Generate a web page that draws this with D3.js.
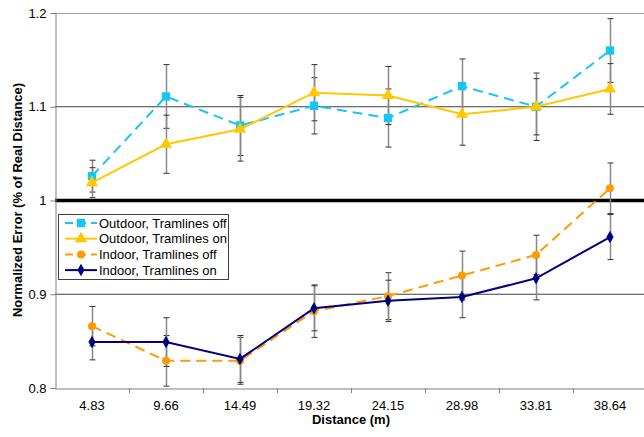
<!DOCTYPE html>
<html><head><meta charset="utf-8">
<script src="https://cdn.jsdelivr.net/npm/d3@7"></script>
<style>body{margin:0;background:#fff;} svg{display:block;font-family:Arial,"Liberation Sans",sans-serif;}</style>
</head><body>
<svg id="c" width="644" height="437"></svg>
<script>
const categories = ["4.83","9.66","14.49","19.32","24.15","28.98","33.81","38.64"];
const seriesNames = ["Outdoor, Tramlines off","Outdoor, Tramlines on","Indoor, Tramlines off","Indoor, Tramlines on"];
const outdoorOff = [1.026,1.111,1.080,1.101,1.088,1.122,1.100,1.160];
const outdoorOffErr = [0.017,0.034,0.032,0.030,0.031,0.029,0.036,0.034];
const outdoorOn = [1.019,1.060,1.076,1.115,1.112,1.092,1.100,1.119];
const outdoorOnErr = [0.016,0.031,0.034,0.030,0.031,0.033,0.030,0.027];
const indoorOff = [0.866,0.829,0.829,0.882,0.898,0.920,0.942,1.013];
const indoorOffErr = [0.021,0.027,0.025,0.028,0.025,0.026,0.021,0.027];
const indoorOn = [0.849,0.849,0.831,0.885,0.893,0.897,0.917,0.961];
const indoorOnErr = [0.019,0.026,0.025,0.024,0.022,0.022,0.023,0.024];
const yTicks = [0.8,0.9,1.0,1.1,1.2];
const yTickLabels = ["0.8","0.9","1","1.1","1.2"];

const svg = d3.select("#c");
const L=55, R=647, T=13, B=388;
const x = d3.scaleBand().domain(categories).range([L,R]);
const y = d3.scaleLinear().domain([0.8,1.2]).range([B,T]);

// gridlines
svg.append("g").selectAll("line").data(yTicks.filter(v=>v>0.8 && v<1.2)).join("line")
  .attr("x1",L).attr("x2",R).attr("y1",d=>y(d)).attr("y2",d=>y(d))
  .attr("stroke",d=>Math.abs(d-1)<1e-9?"#000":"#404040")
  .attr("stroke-width",d=>Math.abs(d-1)<1e-9?3.5:1);
// top border
svg.append("line").attr("x1",L).attr("x2",R).attr("y1",y(1.2)+0.5).attr("y2",y(1.2)+0.5).attr("stroke","#a0a0a0").attr("stroke-width",1);

// axes
const yAxis = d3.axisLeft(y).tickValues(yTicks).tickFormat((d,i)=>yTickLabels[i]).tickSize(5).tickPadding(4);
const gy = svg.append("g").attr("transform",`translate(${L+0.5},0)`).call(yAxis);
gy.select(".domain").attr("stroke","#808080");
gy.selectAll(".tick line").attr("stroke","#808080");
gy.selectAll("text").attr("font-size",13).attr("fill","#000").attr("font-family","Arial, Liberation Sans, sans-serif");

const xAxis = d3.axisBottom(x).tickSize(0).tickPadding(12);
const gx = svg.append("g").attr("transform",`translate(0,${B+0.5})`).call(xAxis);
gx.select(".domain").attr("stroke","#808080");
gx.selectAll("text").attr("font-size",13).attr("fill","#000").attr("font-family","Arial, Liberation Sans, sans-serif");
// category boundary ticks
svg.append("g").selectAll("line").data(categories.slice(1)).join("line")
  .attr("x1",d=>x(d)+0.5).attr("x2",d=>x(d)+0.5).attr("y1",B).attr("y2",B+5).attr("stroke","#808080");

const cx = d => x(d)+x.bandwidth()/2;

const series = [
  {name:seriesNames[0], v:outdoorOff, e:outdoorOffErr, color:"#17C6F5", dash:"10,6", sym:d3.symbolSquare, size:70},
  {name:seriesNames[1], v:outdoorOn, e:outdoorOnErr, color:"#FFC800", dash:null, sym:d3.symbolTriangle, size:65},
  {name:seriesNames[2], v:indoorOff, e:indoorOffErr, color:"#FF9A00", dash:"10,6", sym:d3.symbolCircle, size:50},
  {name:seriesNames[3], v:indoorOn, e:indoorOnErr, color:"#000080", dash:null, sym:d3.symbolDiamond, size:45}
];

// error bars
series.forEach(s=>{
  const g = svg.append("g");
  categories.forEach((c,i)=>{
    const X = Math.round(cx(c))+0.5, y1=y(s.v[i]+s.e[i]), y2=y(s.v[i]-s.e[i]);
    g.append("line").attr("x1",X).attr("x2",X).attr("y1",y1).attr("y2",y2).attr("stroke","#888").attr("stroke-width",1.5);
    [y1,y2].forEach(yy=>g.append("line").attr("x1",X-3).attr("x2",X+3).attr("y1",yy).attr("y2",yy).attr("stroke","#333").attr("stroke-width",1));
  });
});

// lines and markers
series.forEach(s=>{
  const line = d3.line().x((d,i)=>cx(categories[i])).y(d=>y(d));
  svg.append("path").datum(s.v).attr("d",line).attr("fill","none")
    .attr("stroke",s.color).attr("stroke-width",2).attr("stroke-dasharray",s.dash);
  svg.append("g").selectAll("path").data(s.v).join("path")
    .attr("d",d3.symbol().type(s.sym).size(s.size))
    .attr("transform",(d,i)=>`translate(${cx(categories[i])},${y(d)})`)
    .attr("fill",s.color);
});

// legend
const lg = svg.append("g");
lg.append("rect").attr("x",58.5).attr("y",214.5).attr("width",170).attr("height",65).attr("fill","#fff").attr("stroke","#404040").attr("stroke-width",1);
series.forEach((s,i)=>{
  const yy = 223 + i*15.7;
  lg.append("line").attr("x1",65).attr("x2",97).attr("y1",yy).attr("y2",yy).attr("stroke",s.color).attr("stroke-width",2).attr("stroke-dasharray",s.dash?"8,5":null);
  lg.append("path").attr("d",d3.symbol().type(s.sym).size(s.size)).attr("transform",`translate(81,${yy})`).attr("fill",s.color);
  lg.append("text").attr("x",99).attr("y",yy+4.5).attr("font-size",13).text(s.name);
});

// axis titles
svg.append("text").attr("x",(L+R)/2).attr("y",424).attr("text-anchor","middle").attr("font-weight","bold").attr("font-size",13).text("Distance (m)");
svg.append("text").attr("transform","translate(22,200) rotate(-90)").attr("text-anchor","middle").attr("font-weight","bold").attr("font-size",13).text("Normalized Error (% of Real Distance)");
</script>
</body></html>
